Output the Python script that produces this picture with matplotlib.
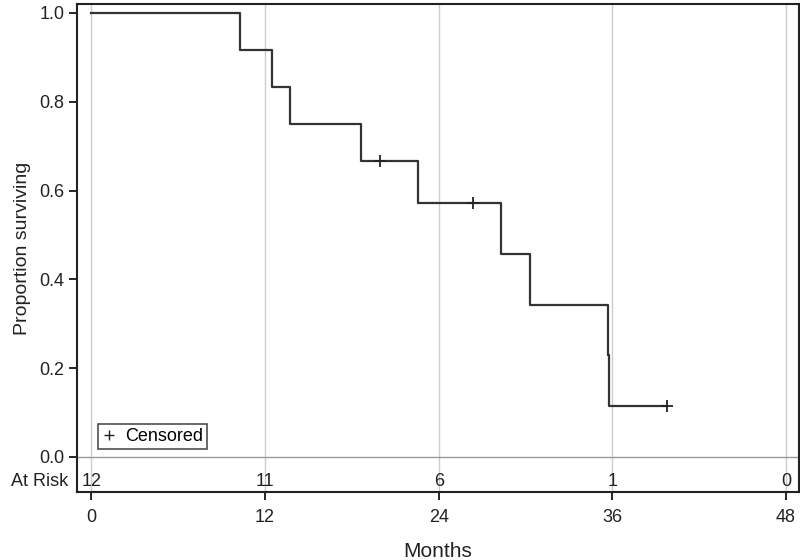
import matplotlib
matplotlib.use("Agg")
import matplotlib.pyplot as plt
import numpy as np

plt.rcParams['font.family'] = ['Liberation Sans', 'DejaVu Sans']

# Kaplan-Meier step points (months, proportion surviving)
step_t = [0, 10.3, 12.45, 13.7, 18.65, 22.55, 28.3, 30.3, 35.68, 35.78, 39.8]
step_s = [1.0, 0.9167, 0.8333, 0.75, 0.6667, 0.5714, 0.4571, 0.3429, 0.2286, 0.1143, 0.1143]

# censored observations
cens_t = [19.95, 26.4, 39.8]
cens_s = [0.6667, 0.5714, 0.1143]

# number at risk table
risk_t = [0, 12, 24, 36, 48]
risk_n = [12, 11, 6, 1, 0]

txt = '#222222'

fig = plt.figure(figsize=(8, 5.6), dpi=100)
ax = fig.add_axes([0.09625, 0.1214, 0.9025, 0.8714])

ax.set_xlim(-1.0, 48.9)
ax.set_ylim(-0.079, 1.02)

for t in risk_t:
    ax.axvline(t, color='#cccccc', lw=1, zorder=0)
ax.axhline(0, color='#999999', lw=1, zorder=1)

ax.step(step_t, step_s, where='post', color='#333333', lw=1.6, zorder=3)
ax.plot(cens_t, cens_s, ls='none', marker='+', ms=8, mew=1.3, color='#222222', zorder=4)

for t, n in zip(risk_t, risk_n):
    ax.text(t, -0.055, str(n), ha='center', va='center', fontsize=13, color=txt)
ax.text(-0.012, -0.055, 'At Risk', transform=ax.get_yaxis_transform(),
        ha='right', va='center', fontsize=13, color=txt)

ax.set_xticks(risk_t)
ax.set_yticks([0, 0.2, 0.4, 0.6, 0.8, 1.0])
ax.set_yticklabels(['0.0', '0.2', '0.4', '0.6', '0.8', '1.0'])
ax.tick_params(labelsize=13, length=6, width=1.2, direction='out', labelcolor=txt)
ax.tick_params(axis='x', pad=6)
ax.tick_params(axis='y', pad=3)

for sp in ax.spines.values():
    sp.set_linewidth(1.5)
    sp.set_color('#222222')

ax.set_xlabel('Months', fontsize=15, labelpad=12, color=txt)
ax.set_ylabel('Proportion surviving', fontsize=14, labelpad=6, color=txt)

leg = ax.legend([plt.Line2D([], [], ls='none', marker='+', ms=7, mew=1, color='#222222')],
                ['Censored'], loc='lower left', bbox_to_anchor=(0.029, 0.089),
                fontsize=13, frameon=True, fancybox=False, handlelength=0.8,
                handletextpad=0.5, borderpad=0.2, borderaxespad=0.0)
leg.get_frame().set_edgecolor('#222222')
leg.get_frame().set_linewidth(1.2)

fig.savefig('out.png', dpi=100)
